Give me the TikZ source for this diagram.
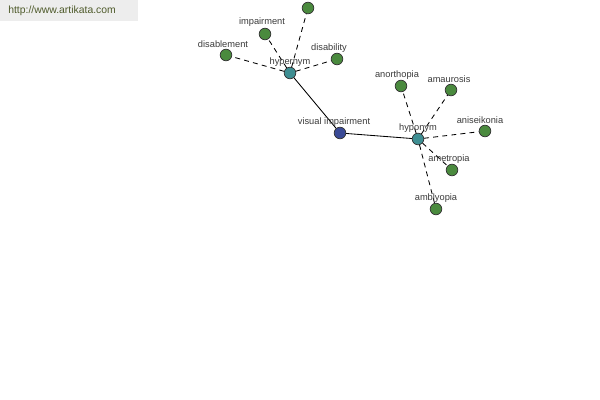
\documentclass[tikz,border=0pt]{standalone}
\usepackage{fontspec}
\setmainfont{Liberation Sans}
\usepackage{xcolor}
\usepackage{tikz}
\usetikzlibrary{arrows.meta, positioning}

\definecolor{leafgreen}{HTML}{4A8A3E}
\definecolor{relteal}{HTML}{3E8E92}
\definecolor{rootblue}{HTML}{3A4A96}
\definecolor{txtgray}{HTML}{3A3A3A}
\definecolor{bannergray}{HTML}{EDEDED}
\definecolor{bannertext}{HTML}{4E5A2A}

\begin{document}
\begin{tikzpicture}[
    x=0.025cm, y=-0.025cm,
    dot/.style={circle, draw=black!80, line width=0.5pt, minimum size=0.29cm, inner sep=0pt},
    leaf/.style={dot, fill=leafgreen},
    rel/.style={dot, fill=relteal},
    root/.style={dot, fill=rootblue},
    lbl/.style={font=\fontsize{6.6}{7}\selectfont, text=txtgray, inner sep=1pt},
    link/.style={line width=0.6pt, black},
    weak/.style={line width=0.6pt, black, dash pattern=on 3.5pt off 3pt},
]
\useasboundingbox (0,0) rectangle (600,400);

% site banner
\fill[bannergray] (0,0) rectangle (138,21);
\node[font=\fontsize{7.4}{8}\selectfont, text=bannertext, anchor=west, inner sep=0pt] (site) at (8,10.5) {http://www.artikata.com};

% centre word and its two relation nodes
\node[root] (vis) at (340,133) {};
\node[rel]  (hyper) at (290,73) {};
\node[rel]  (hypo)  at (418,139) {};

% hypernyms
\node[leaf] (top)   at (308,8) {};
\node[leaf] (impair) at (265,34) {};
\node[leaf] (disabl) at (226,55) {};
\node[leaf] (disab)  at (337,59) {};

% hyponyms
\node[leaf] (anorth) at (401,86) {};
\node[leaf] (amaur)  at (451,90) {};
\node[leaf] (anisei) at (485,131) {};
\node[leaf] (ametr)  at (452,170) {};
\node[leaf] (ambly)  at (436,209) {};

% edges
\draw[link] (hyper) -- (vis);
\draw[link] (vis) -- (hypo);
\foreach \n in {top, impair, disabl, disab}
    \draw[weak] (hyper) -- (\n);
\foreach \n in {anorth, amaur, anisei, ametr, ambly}
    \draw[weak] (hypo) -- (\n);

% labels
\node[lbl] (vis-l)    at (334,122) {visual impairment};
\node[lbl] (hyper-l)  at (290,62) {hypernym};
\node[lbl] (hypo-l)   at (418,128) {hyponym};
\node[lbl] (impair-l) at (262,22) {impairment};
\node[lbl] (disabl-l) at (223,44) {disablement};
\node[lbl] (disab-l)  at (329,48) {disability};
\node[lbl] (anorth-l) at (397,75) {anorthopia};
\node[lbl] (amaur-l)  at (449,79) {amaurosis};
\node[lbl] (anisei-l) at (480,120) {aniseikonia};
\node[lbl] (ametr-l)  at (449,159) {ametropia};
\node[lbl] (ambly-l)  at (436,198) {amblyopia};

\end{tikzpicture}
\end{document}
